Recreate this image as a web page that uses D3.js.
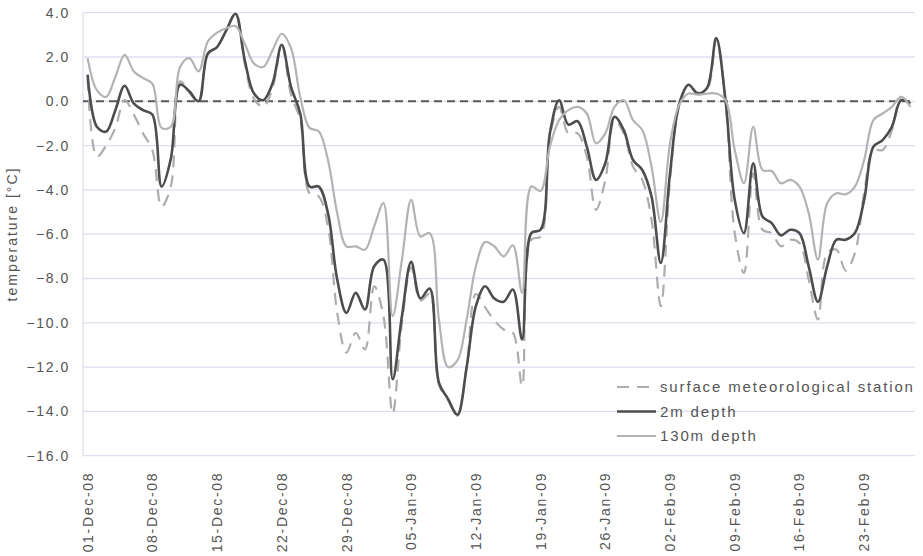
<!DOCTYPE html>
<html><head><meta charset="utf-8">
<script src="https://cdn.jsdelivr.net/npm/d3@7/dist/d3.min.js"></script>
<style>
body{margin:0;background:#fff;}
text{font-family:"Liberation Sans",Arial,sans-serif;fill:#555;}
</style></head>
<body><svg id="c" width="923" height="556"></svg>
<script>
// categories: daily, 01-Dec-08 .. 28-Feb-09
const startDate = new Date(2008, 11, 1);
const endDate = new Date(2009, 2, 1);
const tickLabels = ["01-Dec-08","08-Dec-08","15-Dec-08","22-Dec-08","29-Dec-08","05-Jan-09","12-Jan-09","19-Jan-09","26-Jan-09","02-Feb-09","09-Feb-09","16-Feb-09","23-Feb-09"];
const yTicks = [4,2,0,-2,-4,-6,-8,-10,-12,-14,-16];
const seriesNames = ["surface meteorological station","2m depth","130m depth"];

const surface = [1.0,-2.5,-2.0,-1.2,0.05,-0.6,-1.45,-2.2,-4.75,-3.85,
 0.9,0.4,-0.05,2.15,2.45,3.2,3.95,1.7,0.1,-0.25,
 0.6,2.5,0.3,-0.85,-4.15,-4.3,-5.65,-9.55,-11.35,-10.45,
 -11.2,-8.35,-9.7,-14.1,-10.0,-7.5,-9.0,-8.7,-12.8,-13.5,
 -14.2,-12.0,-8.7,-9.3,-9.9,-10.3,-10.45,-12.85,-6.25,-6.1,
 -1.6,-0.25,-1.45,-1.45,-2.5,-4.9,-3.55,-0.85,-1.45,-2.95,
 -3.55,-5.35,-9.25,-3.55,-0.2,0.7,0.4,0.5,2.8,0.0,
 -5.95,-7.75,-3.25,-5.8,-5.95,-6.55,-6.25,-6.4,-8.05,-9.85,
 -6.85,-6.7,-7.65,-6.85,-4.15,-2.2,-2.2,-1.3,0.2,-0.25];
const depth2m = [1.2,-1.15,-1.37,-0.4,0.7,-0.1,-0.4,-0.6,-3.85,-2.6,
 0.75,0.45,0.0,2.15,2.45,3.2,3.95,1.85,0.35,0.05,
 0.8,2.55,0.65,-0.55,-3.85,-3.85,-5.05,-8.05,-9.55,-8.65,
 -9.4,-7.45,-7.15,-12.55,-9.7,-7.25,-8.9,-8.45,-12.7,-13.45,
 -14.15,-12.0,-9.25,-8.35,-8.9,-9.05,-8.5,-10.75,-5.95,-5.8,
 -1.45,0.05,-1.05,-0.9,-2.05,-3.55,-2.8,-0.7,-1.3,-2.65,
 -3.1,-4.3,-7.3,-3.25,-0.1,0.75,0.35,0.6,2.85,0.05,
 -4.45,-5.95,-2.8,-5.2,-5.5,-6.05,-5.8,-5.95,-7.45,-9.05,
 -7.45,-6.25,-6.25,-5.95,-4.45,-2.05,-1.75,-1.15,0.05,-0.1];
const depth130m = [1.95,0.5,0.2,1.1,2.1,1.35,1.05,0.8,-1.2,-1.15,
 1.55,1.95,1.35,2.7,3.1,3.3,3.4,2.6,1.7,1.55,
 2.3,3.05,2.4,0.2,-1.2,-1.35,-2.65,-5.05,-6.55,-6.55,
 -6.7,-5.65,-4.6,-9.7,-7.15,-4.45,-6.1,-5.95,-9.85,-12.0,
 -11.7,-9.85,-7.45,-6.35,-6.55,-7.0,-6.5,-8.65,-3.85,-4.05,
 -2.05,-0.85,-0.4,-0.25,-0.55,-1.9,-1.45,-0.25,0.05,-0.85,
 -1.3,-2.95,-5.45,-1.9,-0.15,0.35,0.3,0.35,0.35,0.05,
 -2.2,-3.7,-1.15,-3.1,-3.15,-3.7,-3.55,-3.85,-5.05,-7.15,
 -4.6,-4.15,-4.2,-3.85,-2.65,-0.85,-0.55,-0.25,0.2,-0.25];

const days = d3.timeDay.range(startDate, endDate);
const fmt = d3.timeFormat("%d-%b-%y");

const svg = d3.select("#c");
const L = 83, R = 915, T = 12.7, B = 455.7;
const x = d3.scaleBand().domain(days.map(d=>+d)).range([L,R]).padding(0);
const xc = d => x(+d) + x.bandwidth()/2;
const y = d3.scaleLinear().domain([-16,4]).range([B,T]);

// grid
svg.append("g").selectAll("line").data(yTicks).join("line")
  .attr("x1",L).attr("x2",R).attr("y1",d=>y(d)).attr("y2",d=>y(d))
  .attr("stroke","#dde0ee").attr("stroke-width",1.3);
svg.append("line").attr("x1",L).attr("x2",L).attr("y1",T).attr("y2",B)
  .attr("stroke","#dde0ee").attr("stroke-width",1.3);

// y axis
const yAxis = d3.axisLeft(y).tickValues(yTicks).tickFormat(d3.format(".1f")).tickSize(0).tickPadding(13);
const gy = svg.append("g").attr("transform",`translate(${L},0)`).call(yAxis);
gy.select(".domain").remove();
gy.selectAll("text").attr("font-size",14).style("letter-spacing","1.6px").attr("fill","#555")
  .style("font-family","'Liberation Sans',Arial,sans-serif");

// x axis
const tickDays = days.filter(d => tickLabels.includes(fmt(d)));
const xAxis = d3.axisBottom(x).tickValues(tickDays.map(d=>+d)).tickFormat(v=>fmt(new Date(v))).tickSize(0);
const gx = svg.append("g").attr("transform",`translate(0,${B})`).call(xAxis);
gx.select(".domain").remove();
gx.selectAll("text").attr("font-size",14).style("letter-spacing","1.7px").attr("fill","#555")
  .style("font-family","'Liberation Sans',Arial,sans-serif")
  .attr("text-anchor","end").attr("transform","rotate(-90)")
  .attr("x",-16).attr("y",0).attr("dy","0.36em");

// y title
svg.append("text").attr("transform","translate(17,234) rotate(-90)")
  .attr("text-anchor","middle").attr("font-size",14).style("letter-spacing","2px")
  .text("temperature [°C]");

// zero line
svg.append("line").attr("x1",L).attr("x2",R).attr("y1",y(0)).attr("y2",y(0))
  .attr("stroke","#5a5a5a").attr("stroke-width",2).attr("stroke-dasharray","8,5");

const line = vals => d3.line().x((v,i)=>xc(days[i])).y(v=>y(v)).curve(d3.curveCatmullRom.alpha(0.5))(vals);

svg.append("path").attr("d",line(surface)).attr("fill","none")
  .attr("stroke","#adadad").attr("stroke-width",2.2).attr("stroke-dasharray","12,8");
svg.append("path").attr("d",line(depth2m)).attr("fill","none")
  .attr("stroke","#4d4d4d").attr("stroke-width",2.6);
svg.append("path").attr("d",line(depth130m)).attr("fill","none")
  .attr("stroke","#b3b3b3").attr("stroke-width",2.2);

// legend
const styles = [
  {stroke:"#adadad", w:2.2, dash:"12,8"},
  {stroke:"#4d4d4d", w:2.6, dash:null},
  {stroke:"#b3b3b3", w:2.2, dash:null}
];
const lg = svg.append("g");
seriesNames.forEach((n,i)=>{
  const yy = 387 + i*24.5;
  lg.append("line").attr("x1",617).attr("x2",656).attr("y1",yy).attr("y2",yy)
    .attr("stroke",styles[i].stroke).attr("stroke-width",styles[i].w)
    .attr("stroke-dasharray",styles[i].dash);
  lg.append("text").attr("x",660).attr("y",yy).attr("dy","0.36em")
    .attr("font-size",15).style("letter-spacing","1.85px").text(n);
});
</script></body></html>
